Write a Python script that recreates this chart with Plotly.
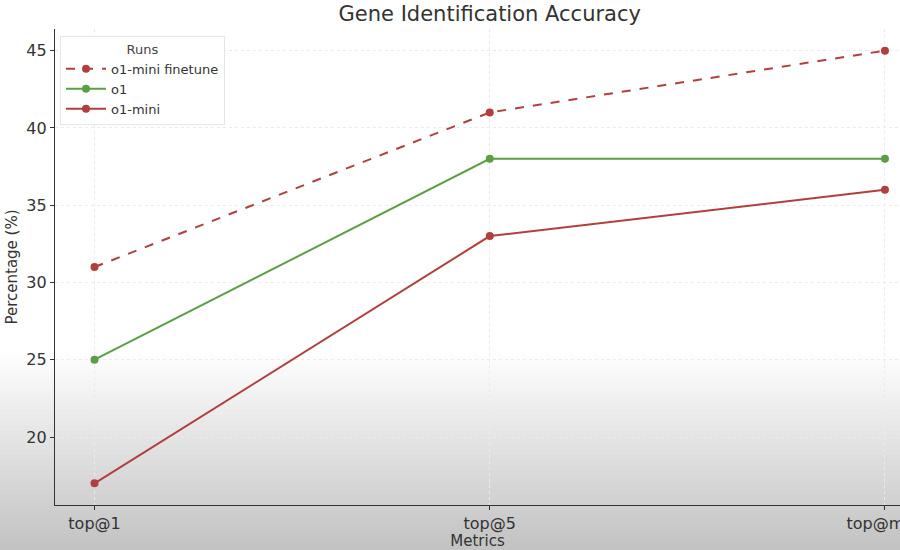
import plotly.graph_objects as go

metrics = ["top@1", "top@5", "top@max"]
finetune = [31, 41, 45]
o1 = [25, 38, 38]
o1_mini = [17, 33, 36]

RED = "#b23f3f"
GREEN = "#5c9e45"
FONT = "DejaVu Sans"

W, H = 900, 550
L, R, T, B = 55, 0, 29, 45
ph = H - T - B
pw = W - L - R

fig = go.Figure()
x_idx = [0, 1, 2]
fig.add_trace(go.Scatter(x=x_idx, y=finetune, name="o1-mini finetune", mode="lines+markers",
                         line=dict(color=RED, width=2, dash="dash"), marker=dict(color=RED, size=8)))
fig.add_trace(go.Scatter(x=x_idx, y=o1, name="o1", mode="lines+markers",
                         line=dict(color=GREEN, width=2), marker=dict(color=GREEN, size=8)))
fig.add_trace(go.Scatter(x=x_idx, y=o1_mini, name="o1-mini", mode="lines+markers",
                         line=dict(color=RED, width=2), marker=dict(color=RED, size=8)))

# background gradient at bottom (screen overlay)
shapes = []
y_start, y_end = 350, 550
n = 40
step = (y_end - y_start) / n
for i in range(n):
    py0 = y_start + i * step
    py1 = py0 + step + 0.5
    t = (i + 0.5) / n
    g = int(round(255 - (255 - 194) * t))
    shapes.append(dict(type="rect", xref="paper", yref="paper",
                       x0=-L / pw, x1=1.0,
                       y0=(H - B - py1) / ph, y1=(H - B - py0) / ph,
                       fillcolor=f"rgb({g},{g},{g})", line=dict(width=0), layer="below"))

fig.update_layout(
    width=W, height=H,
    margin=dict(l=L, r=R, t=T, b=B, autoexpand=False),
    paper_bgcolor="white", plot_bgcolor="rgba(0,0,0,0)",
    font=dict(family=FONT, color="#333333", size=14),
    title=dict(text="Gene Identification Accuracy", x=(L + (924.5 - L) / 2) / W, xanchor="center",
               y=1 - 14 / H, yanchor="middle", font=dict(size=21, color="#333333")),
    shapes=shapes,
    showlegend=True,
    legend=dict(x=5 / pw, y=1 - 7 / ph, xanchor="left", yanchor="top",
                bgcolor="rgba(255,255,255,0.9)", bordercolor="#e6e6e6", borderwidth=1,
                title=dict(text="Runs", side="top center", font=dict(size=13, color="#444444")),
                font=dict(size=13, color="#333333"), tracegroupgap=0, itemwidth=40),
)

fig.update_xaxes(range=[-0.1, 2.1 - 24.5 / 395.5], tickmode="array", tickvals=x_idx, ticktext=metrics,
                 showline=True, linecolor="#333333", linewidth=1.3, ticks="outside", ticklen=4,
                 tickcolor="#333333", showgrid=True, gridcolor="#ebebeb", griddash="dot",
                 zeroline=False, tickfont=dict(size=16, color="#333333"), ticklabeloverflow="allow",
                 title=dict(text="Metrics", font=dict(size=15, color="#333333"), standoff=5),
                 automargin=False)
fig.update_yaxes(range=[15.6, 46.4], tickvals=[20, 25, 30, 35, 40, 45],
                 showline=True, linecolor="#333333", linewidth=1.3, ticks="outside", ticklen=4,
                 tickcolor="#333333", showgrid=True, gridcolor="#ebebeb", griddash="dot",
                 zeroline=False, tickfont=dict(size=16, color="#333333"),
                 title=dict(text="Percentage (%)", font=dict(size=15, color="#333333"), standoff=5),
                 automargin=False)

fig.write_html("out.html", config={"displayModeBar": False},
               post_script="document.body.style.margin='0';document.body.style.overflow='hidden';")
